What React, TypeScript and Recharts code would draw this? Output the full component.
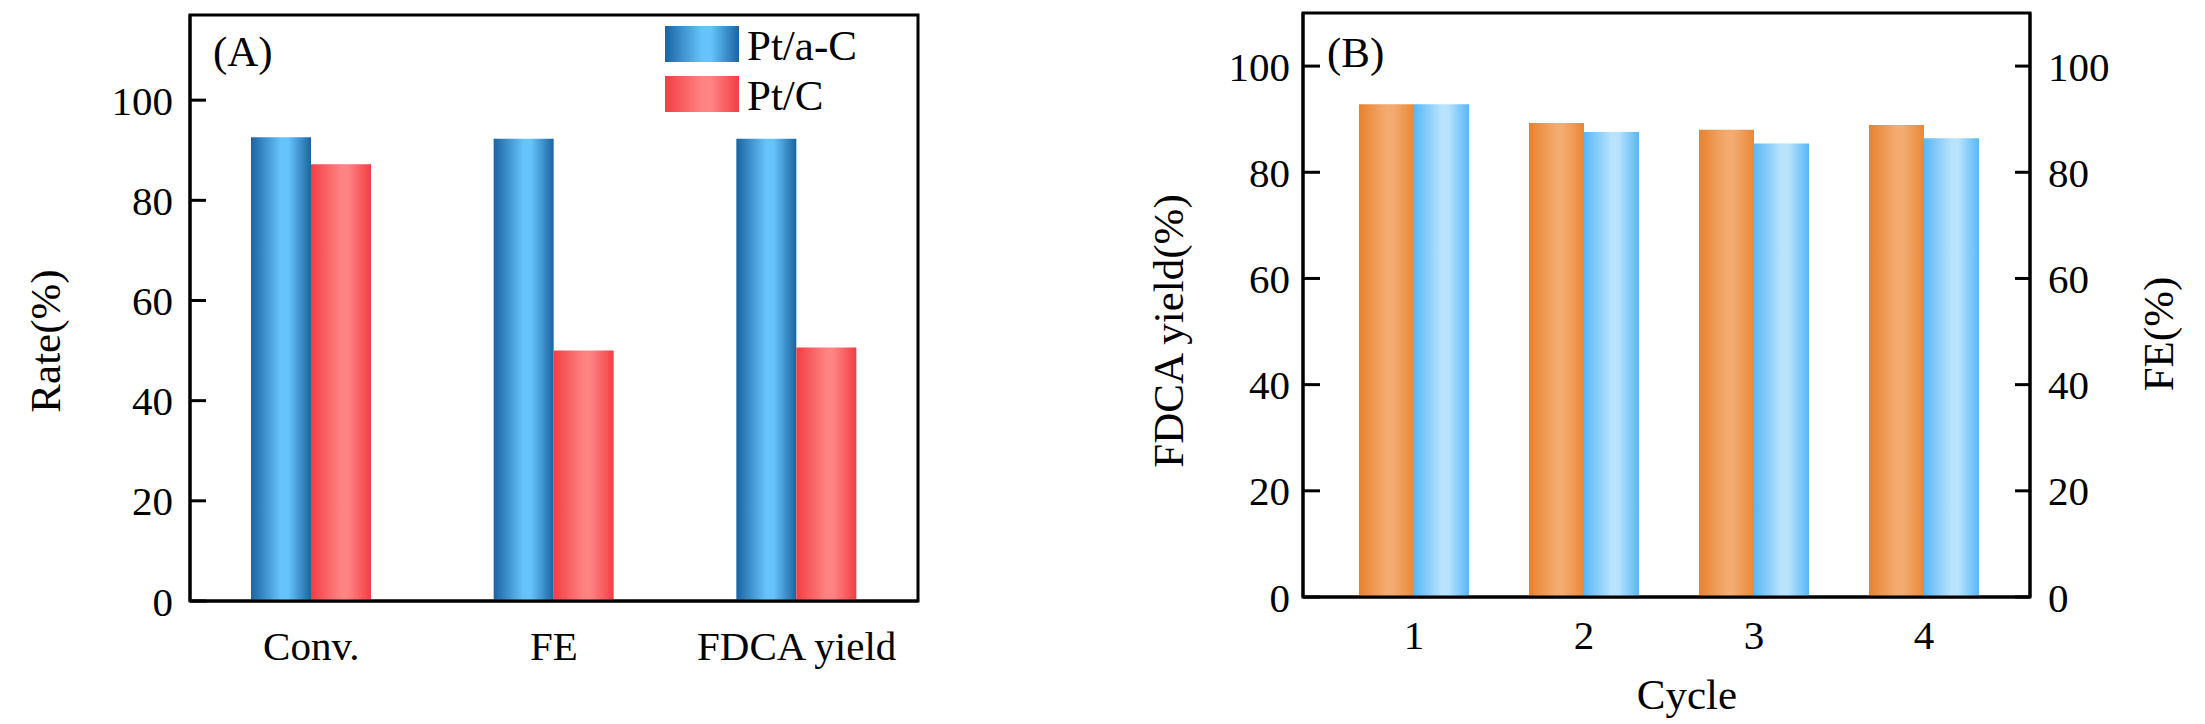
import React from 'react'
import * as R from 'recharts'
import { BarChart, Bar, XAxis, YAxis, Legend, Label } from 'recharts'

// ── Data ─────────────────────────────────────────────────────────────────────

const CATEGORIES = ['Conv.', 'FE', 'FDCA yield']
const PT_AC = [92.6, 92.3, 92.3]
const PT_C = [87.2, 50.0, 50.6]
const SERIES_A = ['Pt/a-C', 'Pt/C']

const CYCLES = ['1', '2', '3', '4']
const FDCA_YIELD = [92.8, 89.3, 88.0, 88.9]
const FE_CYCLE = [92.8, 87.6, 85.4, 86.4]

const Y_TICKS = [0, 20, 40, 60, 80, 100]

const dataA = CATEGORIES.map((name, i) => ({ name, ptac: PT_AC[i], ptc: PT_C[i] }))
const dataB = CYCLES.map((cycle, i) => ({ cycle, yield: FDCA_YIELD[i], fe: FE_CYCLE[i] }))

// ── Style ────────────────────────────────────────────────────────────────────

const FONT = "'Liberation Serif', Tinos, 'Times New Roman', Times, 'Nimbus Roman', 'Noto Serif', 'DejaVu Serif', FreeSerif, serif"
const TICK = { fill: '#000', fontSize: 41, fontFamily: FONT, style: { fontFamily: FONT } }
const AXIS_LINE = { stroke: '#000', strokeWidth: 3 }
const TICK_LINE = { stroke: '#000', strokeWidth: 3 }

const usePlot: () => any =
  (R as any).usePlotArea ?? (() => null)

function Grad({ id, edge, mid, edge2 }: { id: string; edge: string; mid: string; edge2?: string }) {
  return (
    <linearGradient id={id} x1="0" y1="0" x2="1" y2="0">
      <stop offset="0%" stopColor={edge} />
      <stop offset="50%" stopColor={mid} />
      <stop offset="62%" stopColor={mid} />
      <stop offset="100%" stopColor={edge2 ?? edge} />
    </linearGradient>
  )
}

function Frame({ fb }: { fb: { x: number; y: number; width: number; height: number } }) {
  const pa = usePlot()
  const b = pa && pa.width ? pa : fb
  return (
    <rect x={b.x} y={b.y} width={b.width} height={b.height}
      fill="none" stroke="#000" strokeWidth={3} pointerEvents="none" />
  )
}

function title(x: number, y: number, text: string, rotate = false) {
  return () => (
    <text x={x} y={y} textAnchor="middle" fontSize={43} style={{ fontFamily: FONT }} fill="#000"
      transform={rotate ? `rotate(-90 ${x} ${y})` : undefined}>
      {text}
    </text>
  )
}

function panelTag(x: number, y: number, text: string) {
  return () => (
    <text x={x} y={y} fontSize={43} style={{ fontFamily: FONT }} fill="#000">{text}</text>
  )
}

function LegendBox({ payload }: { payload?: any[] }) {
  const items = [...(payload ?? [])].sort(
    (a, b) => SERIES_A.indexOf(a.value) - SERIES_A.indexOf(b.value))
  return (
    <svg width={300} height={100} style={{ display: 'block', overflow: 'visible' }}>
      {items.map((it, i) => (
        <g key={it.value}>
          <rect x={0} y={i * 50} width={74} height={36}
            fill={(it.payload && it.payload.fill) || it.color} />
          <text x={82} y={i * 50 + 34} fontSize={43} style={{ fontFamily: FONT }} fill="#000">{it.value}</text>
        </g>
      ))}
    </svg>
  )
}

// ── Panel A ──────────────────────────────────────────────────────────────────

function PanelA() {
  return (
    <BarChart width={1000} height={724} data={dataA} barGap={0}
      margin={{ top: 15, right: 82, bottom: 63, left: 90 }}>
      <defs>
        <Grad id="gPtaC" edge="#1a64a2" mid="#66c4fb" />
        <Grad id="gPtC" edge="#f23e44" mid="#fe8383" />
      </defs>
      <XAxis dataKey="name" tick={TICK} tickLine={false} tickSize={0} tickMargin={30}
        axisLine={AXIS_LINE} height={60} interval={0} />
      <YAxis domain={[0, 117]} ticks={Y_TICKS} tick={TICK} width={100}
        tickSize={-16} tickMargin={33} tickLine={TICK_LINE} axisLine={AXIS_LINE}>
        <Label content={title(60, 341, 'Rate(%)', true)} />
        <Label content={panelTag(213, 66, '(A)')} />
      </YAxis>
      <Legend layout="vertical" align="center" verticalAlign="middle"
        wrapperStyle={{ left: 665, top: 26, width: 300, height: 100 }}
        content={(p: any) => <LegendBox payload={p.payload} />} />
      <Bar dataKey="ptac" name={SERIES_A[0]} fill="url(#gPtaC)" barSize={60} isAnimationActive={false} />
      <Bar dataKey="ptc" name={SERIES_A[1]} fill="url(#gPtC)" barSize={60} isAnimationActive={false} />
      <Frame fb={{ x: 190, y: 15, width: 728, height: 586 }} />
    </BarChart>
  )
}

// ── Panel B ──────────────────────────────────────────────────────────────────

function PanelB() {
  const ox = 1100
  return (
    <BarChart width={1105} height={724} data={dataB} barGap={0}
      margin={{ top: 13, right: 75, bottom: 67, left: 103 }}>
      <defs>
        <Grad id="gYield" edge="#e8822f" mid="#f3ab70" edge2="#e98838" />
        <Grad id="gFE" edge="#58b7f6" mid="#b9e3fd" />
      </defs>
      <XAxis dataKey="cycle" tick={TICK} tickLine={false} tickSize={0} tickMargin={23}
        axisLine={AXIS_LINE} height={60} padding={{ left: 26, right: 21 }}>
        <Label content={title(1687 - ox, 709, 'Cycle')} />
      </XAxis>
      <YAxis yAxisId="left" domain={[0, 110]} ticks={Y_TICKS} tick={TICK} width={100}
        tickSize={-17} tickMargin={30} tickLine={TICK_LINE} axisLine={AXIS_LINE}>
        <Label content={title(1183 - ox, 331, 'FDCA yield(%)', true)} />
        <Label content={panelTag(1327 - ox, 67, '(B)')} />
      </YAxis>
      <YAxis yAxisId="right" orientation="right" domain={[0, 110]} ticks={Y_TICKS} tick={TICK}
        width={100} tickSize={-15} tickMargin={33} tickLine={TICK_LINE} axisLine={AXIS_LINE}>
        <Label content={title(2173 - ox, 334, 'FE(%)', true)} />
      </YAxis>
      <Bar yAxisId="left" dataKey="yield" name="FDCA yield" fill="url(#gYield)" barSize={55}
        isAnimationActive={false} />
      <Bar yAxisId="right" dataKey="fe" name="FE" fill="url(#gFE)" barSize={55}
        isAnimationActive={false} />
      <Frame fb={{ x: 203, y: 13, width: 727, height: 584 }} />
    </BarChart>
  )
}

export default function App() {
  return (
    <div style={{ position: 'absolute', left: 0, top: 0, width: 2205, height: 724, background: '#fff', fontFamily: FONT }}>
      <div style={{ position: 'absolute', left: 0, top: 0 }}>
        <PanelA />
      </div>
      <div style={{ position: 'absolute', left: 1100, top: 0 }}>
        <PanelB />
      </div>
    </div>
  )
}
